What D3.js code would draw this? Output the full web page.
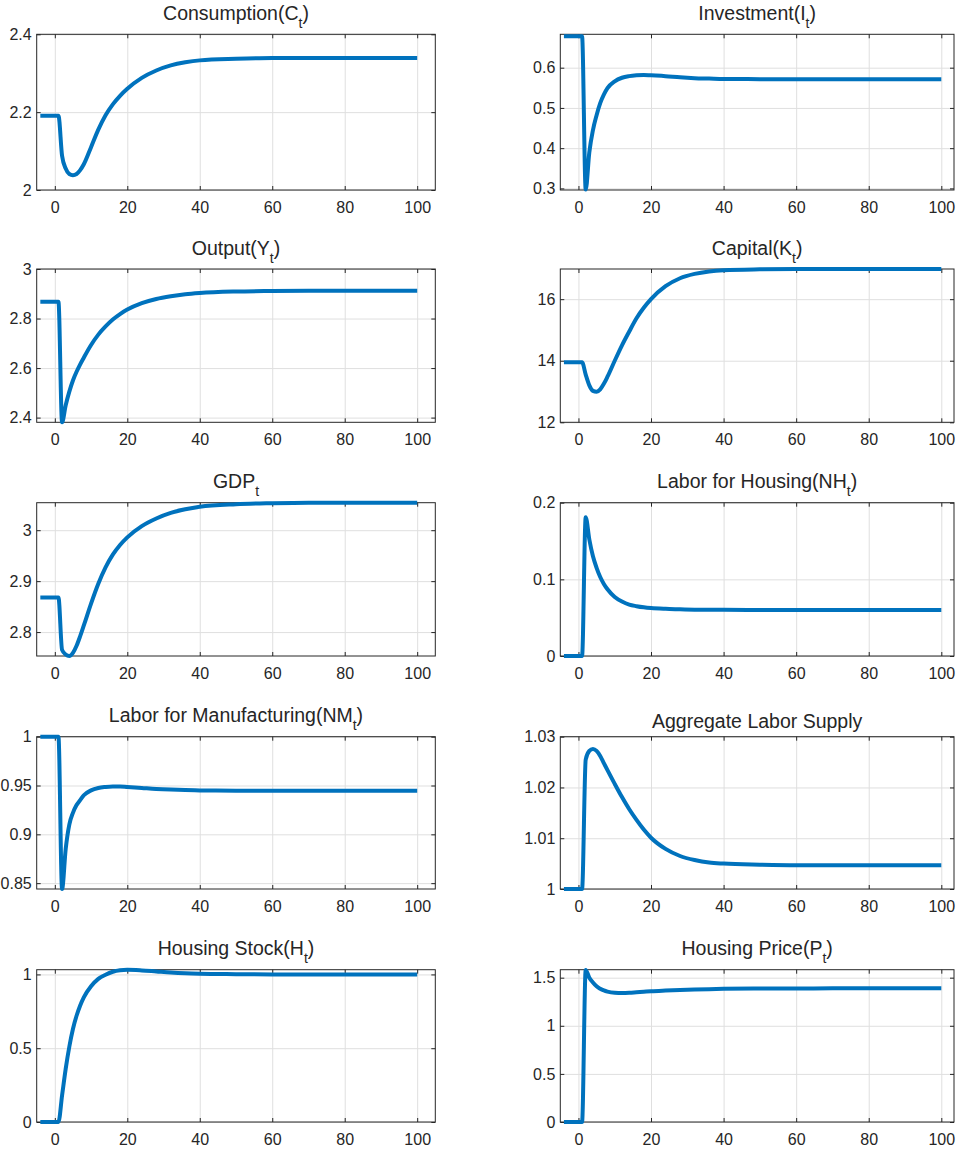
<!DOCTYPE html>
<html>
<head>
<meta charset="utf-8">
<script src="https://cdn.jsdelivr.net/npm/d3@7"></script>
<style>
body { margin: 0; background: #fff; }
#chart { width: 960px; height: 1152px; }
text { font-family: "Liberation Sans", Arial, Helvetica, sans-serif; fill: #262626; }
</style>
</head>
<body>
<div id="chart"></div>
<script>
// periods (quarters) at which the impulse responses were read
const periods = [-4, 1, 2, 3, 4, 5, 6, 7, 8, 10, 12, 14, 16, 18, 20, 24, 28, 32, 36, 40, 50, 60, 70, 80, 100];

const consumption  = [2.191, 2.191, 2.088, 2.055, 2.041, 2.038, 2.041, 2.051, 2.066, 2.11, 2.155, 2.192, 2.22, 2.242, 2.26, 2.288, 2.307, 2.32, 2.328, 2.333, 2.337, 2.339, 2.339, 2.339, 2.339];
const investment   = [0.678, 0.678, 0.297, 0.39, 0.445, 0.482, 0.512, 0.533, 0.549, 0.566, 0.575, 0.579, 0.581, 0.582, 0.581, 0.579, 0.576, 0.574, 0.573, 0.572, 0.5715, 0.571, 0.571, 0.571, 0.571];
const output       = [2.868, 2.868, 2.381, 2.45, 2.505, 2.55, 2.585, 2.615, 2.642, 2.693, 2.735, 2.768, 2.796, 2.818, 2.836, 2.862, 2.879, 2.89, 2.898, 2.903, 2.909, 2.911, 2.912, 2.912, 2.912];
const capital      = [13.95, 13.95, 13.55, 13.2, 13.02, 12.99, 13.07, 13.25, 13.48, 14.0, 14.5, 14.95, 15.38, 15.72, 16.0, 16.42, 16.68, 16.82, 16.9, 16.94, 16.97, 16.98, 16.98, 16.98, 16.98];
const gdp          = [2.868, 2.868, 2.765, 2.756, 2.753, 2.759, 2.773, 2.792, 2.813, 2.856, 2.895, 2.927, 2.952, 2.971, 2.986, 3.008, 3.023, 3.034, 3.041, 3.046, 3.051, 3.053, 3.054, 3.054, 3.054];
const laborHousing = [0, 0, 0.181, 0.152, 0.13, 0.115, 0.103, 0.094, 0.087, 0.077, 0.071, 0.067, 0.065, 0.0635, 0.0625, 0.0615, 0.061, 0.0605, 0.0603, 0.0602, 0.0601, 0.06, 0.06, 0.06, 0.06];
const laborManuf   = [1, 1, 0.844, 0.885, 0.91, 0.922, 0.93, 0.935, 0.94, 0.945, 0.9475, 0.9485, 0.949, 0.949, 0.9485, 0.9475, 0.9465, 0.9458, 0.9453, 0.945, 0.9447, 0.9446, 0.9446, 0.9446, 0.9446];
const laborSupply  = [1, 1, 1.0255, 1.0272, 1.0276, 1.0272, 1.0262, 1.0248, 1.0234, 1.0207, 1.0181, 1.0157, 1.0136, 1.0117, 1.0101, 1.0079, 1.0065, 1.0057, 1.0052, 1.005, 1.0048, 1.0047, 1.0047, 1.0047, 1.0047];
const housingStock = [0, 0, 0.18, 0.36, 0.51, 0.63, 0.72, 0.79, 0.845, 0.92, 0.97, 0.998, 1.018, 1.028, 1.031, 1.027, 1.02, 1.013, 1.008, 1.005, 1.002, 1.0, 1.0, 1.0, 1.0];
const housingPrice = [0, 0, 1.58, 1.5, 1.45, 1.41, 1.385, 1.367, 1.355, 1.344, 1.342, 1.344, 1.349, 1.354, 1.359, 1.366, 1.372, 1.377, 1.381, 1.384, 1.387, 1.388, 1.389, 1.389, 1.389];

// panel order: row by row, left then right
const series = [consumption, investment, output, capital, gdp, laborHousing, laborManuf, laborSupply, housingStock, housingPrice];
const titleMain = ["Consumption(C", "Investment(I", "Output(Y", "Capital(K", "GDP", "Labor for Housing(NH", "Labor for Manufacturing(NM", "Aggregate Labor Supply", "Housing Stock(H", "Housing Price(P"];
const titleSub  = ["t", "t", "t", "t", "t", "t", "t", "", "t", "t"];
const titleEnd  = [")", ")", ")", ")", "", ")", ")", "", ")", ")"];
const yLimits = [[2, 2.4], [0.296, 0.683], [2.381, 3], [12, 16.98], [2.753, 3.054], [0, 0.2], [0.844, 1], [1, 1.03], [0, 1.032], [0, 1.583]];
const yTicks  = [[2, 2.2, 2.4], [0.3, 0.4, 0.5, 0.6], [2.4, 2.6, 2.8, 3], [12, 14, 16], [2.8, 2.9, 3], [0, 0.1, 0.2], [0.85, 0.9, 0.95, 1], [1, 1.01, 1.02, 1.03], [0, 0.5, 1], [0, 0.5, 1, 1.5]];
const xTicks  = [0, 20, 40, 60, 80, 100];
const xLimits = [[-5, 105], [-5, 103.5]];

function plotIRFs() {
    const svg = d3.select("#chart").append("svg")
        .attr("width", 960)
        .attr("height", 1152);

    // axes boxes (pixels)
    const colLeft = [36.7, 560.3], colRight = [435.3, 954];
    const rowTop = [34.3, 269, 502.7, 736.7, 969.7], rowBottom = [190, 422.3, 656, 889, 1122];
    const fmt = d3.format("~g");

    series.forEach((values, i) => {
        const col = i % 2, row = Math.floor(i / 2);
        const w = colRight[col] - colLeft[col];
        const h = rowBottom[row] - rowTop[row];
        const data = periods.map((t, k) => ({t: t, v: values[k]}));

        const g = svg.append("g")
            .attr("transform", `translate(${colLeft[col]},${rowTop[row]})`);

        const x = d3.scaleLinear().domain(xLimits[col]).range([0, w]);
        const y = d3.scaleLinear().domain(yLimits[i]).range([h, 0]);

        // grid
        g.append("g")
            .attr("class", "grid")
            .attr("transform", `translate(0,${h})`)
            .call(d3.axisBottom(x).tickValues(xTicks).tickSize(-h).tickFormat(""));
        g.append("g")
            .attr("class", "grid")
            .call(d3.axisLeft(y).tickValues(yTicks[i]).tickSize(-w).tickFormat(""));
        g.selectAll(".grid .domain").remove();
        g.selectAll(".grid line").attr("stroke", "#dfdfdf");

        // box
        g.append("rect")
            .attr("width", w)
            .attr("height", h)
            .attr("fill", "none")
            .attr("stroke", "#262626")
            .attr("stroke-width", 1);

        // ticks on all four sides, pointing inward
        g.append("g").attr("class", "ax")
            .attr("transform", `translate(0,${h})`)
            .call(d3.axisBottom(x).tickValues(xTicks).tickSize(-4).tickPadding(11.5).tickFormat(fmt));
        g.append("g").attr("class", "ax")
            .call(d3.axisTop(x).tickValues(xTicks).tickSize(-4).tickFormat(""));
        g.append("g").attr("class", "ax")
            .call(d3.axisLeft(y).tickValues(yTicks[i]).tickSize(-4).tickPadding(5).tickFormat(fmt));
        g.append("g").attr("class", "ax")
            .attr("transform", `translate(${w},0)`)
            .call(d3.axisRight(y).tickValues(yTicks[i]).tickSize(-4).tickFormat(""));
        g.selectAll(".ax .domain").remove();
        g.selectAll(".ax line").attr("stroke", "#262626");
        g.selectAll(".ax text")
            .attr("fill", "#262626")
            .style("font-size", "16px")
            .style("font-family", '"Liberation Sans", Arial, Helvetica, sans-serif');

        // response line
        const line = d3.line()
            .x(d => x(d.t))
            .y(d => y(d.v))
            .curve(d3.curveMonotoneX);

        g.append("path")
            .datum(data)
            .attr("d", line)
            .attr("fill", "none")
            .attr("stroke", "#0072BD")
            .attr("stroke-width", 4)
            .attr("stroke-linejoin", "round");

        // title with subscript
        const title = g.append("text")
            .attr("x", w / 2)
            .attr("y", titleSub[i] ? -14.5 : -9)
            .attr("text-anchor", "middle")
            .style("font-size", "19.5px");
        title.append("tspan").text(titleMain[i]);
        if (titleSub[i]) {
            title.append("tspan").attr("dy", 8).style("font-size", "14px").text(titleSub[i]);
            title.append("tspan").attr("dy", -8).text(titleEnd[i]);
        }
    });
}

plotIRFs();
</script>
</body>
</html>
